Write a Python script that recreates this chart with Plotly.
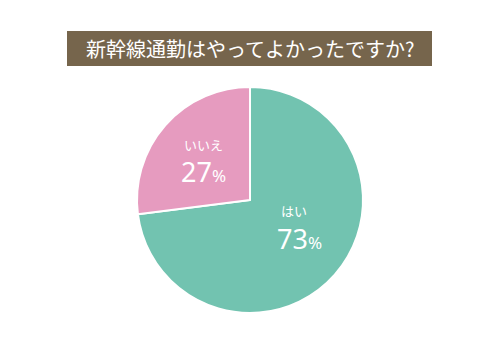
import plotly.graph_objects as go

labels = ["はい", "いいえ"]
values = [73, 27]
colors = ["#72c3b0", "#e69bbf"]
title_text = "新幹線通勤はやってよかったですか?"

W, H = 500, 351
cx, cy, r = 250, 200, 113

fig = go.Figure(go.Pie(
    labels=labels, values=values, sort=False, direction="clockwise", rotation=0,
    marker=dict(colors=colors, line=dict(color="white", width=2)),
    textinfo="none", hoverinfo="label+percent", showlegend=False,
    domain=dict(x=[(cx - r) / W, (cx + r) / W], y=[(H - cy - r) / H, (H - cy + r) / H]),
))

fnt = "Noto Sans CJK JP"
fig.add_shape(type="rect", xref="paper", yref="paper",
              x0=67 / W, x1=432 / W, y0=1 - 66 / H, y1=1 - 31 / H,
              fillcolor="#76654c", line=dict(width=0), layer="below")
fig.add_annotation(x=250 / W, y=1 - 48.5 / H, xref="paper", yref="paper", text=title_text,
                   xanchor="center", yanchor="middle",
                   showarrow=False, font=dict(family=fnt, size=20, color="white"))

label_pos = {"いいえ": (203, 145, 203, 171), "はい": (294, 210, 299, 238)}
for lab, v in zip(labels, values):
    lx, ly, px, py = label_pos[lab]
    fig.add_annotation(x=lx / W, y=1 - ly / H, xref="paper", yref="paper", text=lab,
                       xanchor="center", yanchor="middle",
                       showarrow=False, font=dict(family=fnt, size=13, color="white"))
    fig.add_annotation(x=px / W, y=1 - py / H, xref="paper", yref="paper",
                       text=f"{v}<span style='font-size:17px'>%</span>",
                       xanchor="center", yanchor="middle",
                       showarrow=False, font=dict(family="Noto Sans", size=27, color="white"))

fig.update_layout(width=W, height=H, margin=dict(l=0, r=0, t=0, b=0),
                  paper_bgcolor="white", plot_bgcolor="white")
fig.write_html("out.html")
